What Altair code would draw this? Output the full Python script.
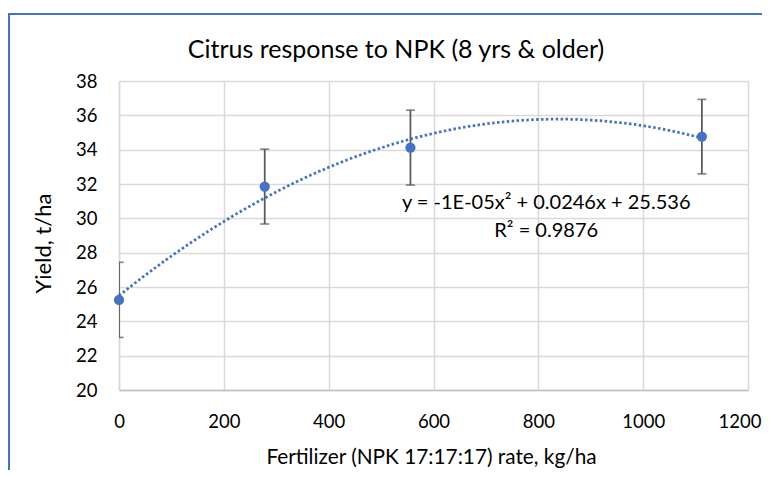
import altair as alt
import pandas as pd

# ---- data ----
rate = [0, 278, 556, 1112]                 # Fertilizer (NPK 17:17:17) rate, kg/ha
yield_mean = [25.25, 31.85, 34.12, 34.76]  # Yield, t/ha
yield_err = [2.19, 2.18, 2.18, 2.17]       # error bar half-length

x_ticks = [0, 200, 400, 600, 800, 1000, 1200]
y_ticks = [20, 22, 24, 26, 28, 30, 32, 34, 36, 38]

title_text = "Citrus response to NPK (8 yrs & older)"
x_title = "Fertilizer (NPK 17:17:17) rate, kg/ha"
y_title = "Yield, t/ha"
eq_text = "y = -1E-05x\u00b2 + 0.0246x + 25.536"
r2_text = "R\u00b2 = 0.9876"

df = pd.DataFrame({
    "rate": rate,
    "yield": yield_mean,
    "lo": [m - e for m, e in zip(yield_mean, yield_err)],
    "hi": [m + e for m, e in zip(yield_mean, yield_err)],
})

FONT = "Lato"
BLUE = "#4472C4"
W, H = 629, 309

xscale = alt.Scale(domain=[0, 1200], nice=False)
yscale = alt.Scale(domain=[20, 38], nice=False, zero=False)

last_x = "datum.value == %d" % x_ticks[-1]
xaxis = alt.Axis(values=x_ticks, tickCount=len(x_ticks), title=x_title, format="d",
                 grid=True, gridColor="#D9D9D9", gridWidth=1.5, domainColor="#BFBFBF",
                 domainWidth=1.5, ticks=False, tickSize=0, labelPadding=22,
                 labelFontSize=18.5, labelFont=FONT, labelColor="#000000",
                 labelOverlap=False, labelFlush=False,
                 labelAlign={"condition": {"test": last_x, "value": "right"},
                             "value": "center"},
                 labelOffset={"condition": {"test": last_x, "value": 13}, "value": 0},
                 titleFont=FONT, titleFontSize=20.8, titleFontWeight="normal",
                 titleColor="#000000", titleX=312, titleY=67, titleBaseline="middle")
yaxis = alt.Axis(values=y_ticks, tickCount=len(y_ticks), title=y_title, grid=True,
                 gridColor="#D9D9D9", gridWidth=1.5, domainColor="#D9D9D9",
                 domainWidth=1.5, ticks=False, tickSize=0, labelPadding=22,
                 labelFontSize=18.5, labelFont=FONT, labelColor="#000000",
                 labelOverlap=False, labelFlush=False, titleFont=FONT,
                 titleFontSize=22, titleFontWeight="normal", titleColor="#000000",
                 titleX=-76, titleY=162, titleBaseline="middle", titleAngle=-90,
                 titleAlign="center")

X = alt.X("rate:Q", scale=xscale, axis=xaxis)
Y = alt.Y("yield:Q", scale=yscale, axis=yaxis)
YLO = alt.Y("lo:Q", scale=yscale, axis=yaxis)
YHI = alt.Y("hi:Q", scale=yscale, axis=yaxis)

base = alt.Chart(df)
one = base.transform_filter(alt.datum.rate == 0)

border = one.mark_rect(fillOpacity=0, stroke=BLUE, strokeWidth=2, clip=False).encode(
    x=alt.value(-110), y=alt.value(-67), x2=alt.value(W + 300), y2=alt.value(H + 300)
)

trend = base.transform_regression(
    "rate", "yield", method="poly", order=2, extent=[0, 1112]
).mark_line(color=BLUE, strokeWidth=2.75, strokeDash=[2.5, 2.4]).encode(x=X, y=Y)

err_rule = base.mark_rule(color="#595959", strokeWidth=1.75, clip=True).encode(
    x=X, y=YLO, y2="hi:Q"
)
cap_lo = base.mark_tick(color="#595959", thickness=1.75, size=9, orient="horizontal",
                        clip=True).encode(x=X, y=YLO)
cap_hi = base.mark_tick(color="#595959", thickness=1.75, size=9, orient="horizontal",
                        clip=True).encode(x=X, y=YHI)

points = base.mark_circle(color=BLUE, size=105, opacity=1).encode(x=X, y=Y)

eq = one.mark_text(font=FONT, fontSize=20, color="#000000", baseline="middle",
                   align="center").encode(
    x=alt.datum(815), y=alt.datum(30.9), text=alt.value(eq_text)
)
r2 = one.mark_text(font=FONT, fontSize=20, color="#000000", baseline="middle",
                   align="center").encode(
    x=alt.datum(815), y=alt.datum(29.28), text=alt.value(r2_text)
)

title = one.mark_text(font=FONT, fontSize=25, color="#000000", baseline="middle",
                      align="center", clip=False).encode(
    x=alt.value(277), y=alt.value(-31), text=alt.value(title_text)
)

chart = alt.layer(trend, err_rule, cap_lo, cap_hi, points, eq, r2, title, border).properties(
    width=W, height=H,
    autosize=alt.AutoSizeParams(type="none"),
    padding={"left": 111, "top": 73, "right": 14, "bottom": 80},
).configure_view(stroke=None).configure(background="white")

chart.save("out.html", embed_options={"renderer": "svg", "actions": False})
